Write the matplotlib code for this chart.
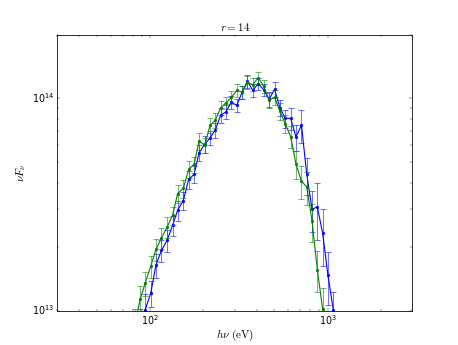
import matplotlib
matplotlib.use("Agg")
import matplotlib.pyplot as plt
import numpy as np

plt.style.use("classic")

# photon energy grid (eV)
energy = [82, 88, 94, 101, 108, 116, 125, 134, 143, 154, 165, 177, 189, 203,
          218, 233, 250, 268, 287, 308, 330, 354, 379, 407, 437, 469, 503, 539,
          578, 620, 664, 713, 764, 818, 876, 938, 1005, 1077, 1155]

# green series (energy[0:37])
green_flux = [8.5e12, 1.13e13, 1.35e13, 1.62e13, 1.94e13, 2.20e13, 2.48e13, 2.81e13,
              3.56e13, 3.76e13, 4.63e13, 4.88e13, 6.29e13, 6.02e13, 7.46e13, 7.88e13,
              9.03e13, 9.53e13, 1.01e14, 1.09e14, 1.07e14, 1.19e14, 1.16e14, 1.25e14,
              1.14e14, 9.8e13, 1.01e14, 8.7e13, 7.6e13, 6.6e13, 4.9e13, 4.07e13,
              3.82e13, 2.64e13, 1.56e13, 1.02e13, 7.5e12]
green_relerr = [0.20, 0.15, 0.13, 0.12, 0.12, 0.11, 0.11, 0.10, 0.10, 0.10, 0.09, 0.09,
                0.09, 0.08, 0.08, 0.08, 0.08, 0.07, 0.07, 0.07, 0.07, 0.07, 0.07, 0.07,
                0.07, 0.08, 0.08, 0.09, 0.10, 0.12, 0.15, 0.18, 0.18, 0.20, 0.22, 0.25,
                0.28]

# blue series (energy[1:39])
blue_flux = [8.5e12, 1.01e13, 1.21e13, 1.64e13, 1.92e13, 2.15e13, 2.52e13, 2.97e13,
             3.30e13, 4.15e13, 4.38e13, 5.54e13, 6.07e13, 6.52e13, 7.09e13, 8.32e13,
             8.65e13, 9.61e13, 9.27e13, 1.067e14, 1.207e14, 1.09e14, 1.172e14, 1.098e14,
             9.89e13, 1.103e14, 9.03e13, 8.05e13, 8.05e13, 6.57e13, 7.48e13, 4.38e13,
             3.0e13, 3.08e13, 2.32e13, 1.47e13, 1.01e13, 7e12]
blue_relerr = [0.20, 0.18, 0.14, 0.13, 0.12, 0.12, 0.11, 0.11, 0.10, 0.10, 0.09, 0.09,
               0.09, 0.08, 0.08, 0.08, 0.08, 0.07, 0.07, 0.07, 0.07, 0.07, 0.07, 0.07,
               0.08, 0.08, 0.09, 0.10, 0.12, 0.14, 0.18, 0.20, 0.22, 0.30, 0.30, 0.28,
               0.21, 0.25]

DPI = 57.25
fig = plt.figure(figsize=(458 / DPI, 345 / DPI), dpi=DPI, facecolor="white")
ax = fig.add_subplot(111)

x_g = np.array(energy[0:37])
y_g = np.array(green_flux)
x_b = np.array(energy[1:39])
y_b = np.array(blue_flux)

ekw = dict(fmt="none", alpha=0.55, capsize=4, elinewidth=1.3, capthick=1.3)
ax.errorbar(x_b, y_b, yerr=y_b * np.array(blue_relerr), ecolor="b", **ekw)
ax.plot(x_b, y_b, ".-", color="b", markersize=7, linewidth=1.4)
ax.errorbar(x_g, y_g, yerr=y_g * np.array(green_relerr), ecolor="g", **ekw)
ax.plot(x_g, y_g, ".-", color="g", markersize=7, linewidth=1.4)

ax.set_xscale("log")
ax.set_yscale("log")
ax.set_xlim(30, 3000)
ax.set_ylim(1e13, 2e14)
ax.set_title(r"$r=14$", fontsize=14, pad=4)
ax.set_xlabel(r"$h\nu\ (\mathrm{eV})$", fontsize=14, labelpad=0)
ax.set_ylabel(r"$\nu F_\nu$", fontsize=14)

fig.savefig("out.png", dpi=DPI, facecolor="white")
